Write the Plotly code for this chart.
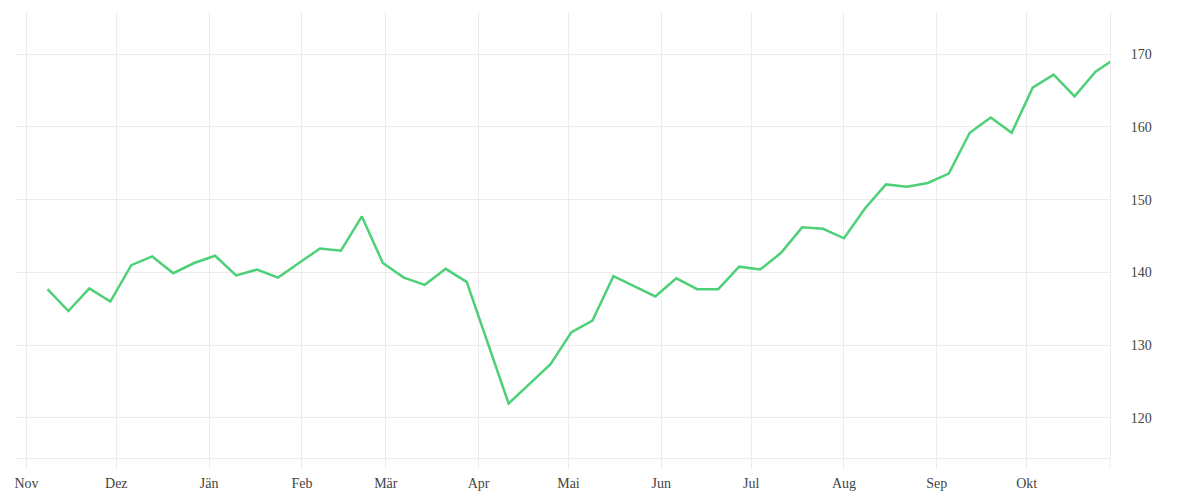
import plotly.graph_objects as go
import pandas as pd

# Weekly values
start_date = "2022-11-08"
values = [137.7, 134.7, 137.8, 136.0, 141.0, 142.2, 139.9, 141.3, 142.3, 139.6,
          140.4, 139.3, 141.3, 143.3, 143.0, 147.7, 141.3, 139.3, 138.3, 140.5,
          138.7, 130.4, 122.0, 124.7, 127.4, 131.8, 133.4, 139.5, 138.1, 136.7,
          139.2, 137.7, 137.7, 140.8, 140.4, 142.7, 146.2, 146.0, 144.7, 148.8,
          152.1, 151.8, 152.3, 153.6, 159.2, 161.3, 159.2, 165.4, 167.2, 164.2,
          167.6, 169.5]
dates = pd.date_range(start_date, periods=len(values), freq="7D")

month_ticks = ["2022-11-01", "2022-12-01", "2023-01-01", "2023-02-01", "2023-03-01",
               "2023-04-01", "2023-05-01", "2023-06-01", "2023-07-01", "2023-08-01",
               "2023-09-01", "2023-10-01"]
month_labels = ["Nov", "Dez", "Jän", "Feb", "Mär", "Apr", "Mai", "Jun", "Jul", "Aug",
                "Sep", "Okt"]
y_ticks = [120, 130, 140, 150, 160, 170]

grid = "#ececec"
font_family = "Liberation Serif"
font_color = "#444"
font_size = 14

fig = go.Figure()
fig.add_trace(go.Scatter(
    x=dates, y=values, mode="lines",
    line=dict(color="#4ed078", width=2.5),
    hoverinfo="x+y", showlegend=False,
))

fig.update_layout(
    width=1200, height=500,
    margin=dict(l=7, r=98, t=4, b=50),
    paper_bgcolor="white", plot_bgcolor="white",
    font=dict(family=font_family, size=font_size, color=font_color),
    xaxis=dict(
        range=["2022-10-28 04:00", "2023-10-28 20:00"],
        tickvals=month_ticks, ticktext=month_labels,
        showgrid=True, gridcolor=grid, gridwidth=1,
        showline=True, linecolor=grid, linewidth=1,
        ticks="outside", ticklen=10, tickcolor=grid,
        ticklabelstandoff=2,
        zeroline=False,
        tickfont=dict(family=font_family, size=font_size, color=font_color),
    ),
    yaxis=dict(
        side="right",
        range=[114.5, 175.8],
        tickvals=y_ticks,
        showgrid=True, gridcolor=grid, gridwidth=1,
        showline=True, linecolor=grid, linewidth=1,
        ticks="", ticklabelstandoff=17,
        zeroline=False,
        tickfont=dict(family=font_family, size=font_size, color=font_color),
    ),
)
fig.add_shape(type="line", xref="paper", yref="paper", x0=1, x1=1,
              y0=-10 / 446, y1=0, line=dict(color=grid, width=1))

fig.write_html("out.html")
